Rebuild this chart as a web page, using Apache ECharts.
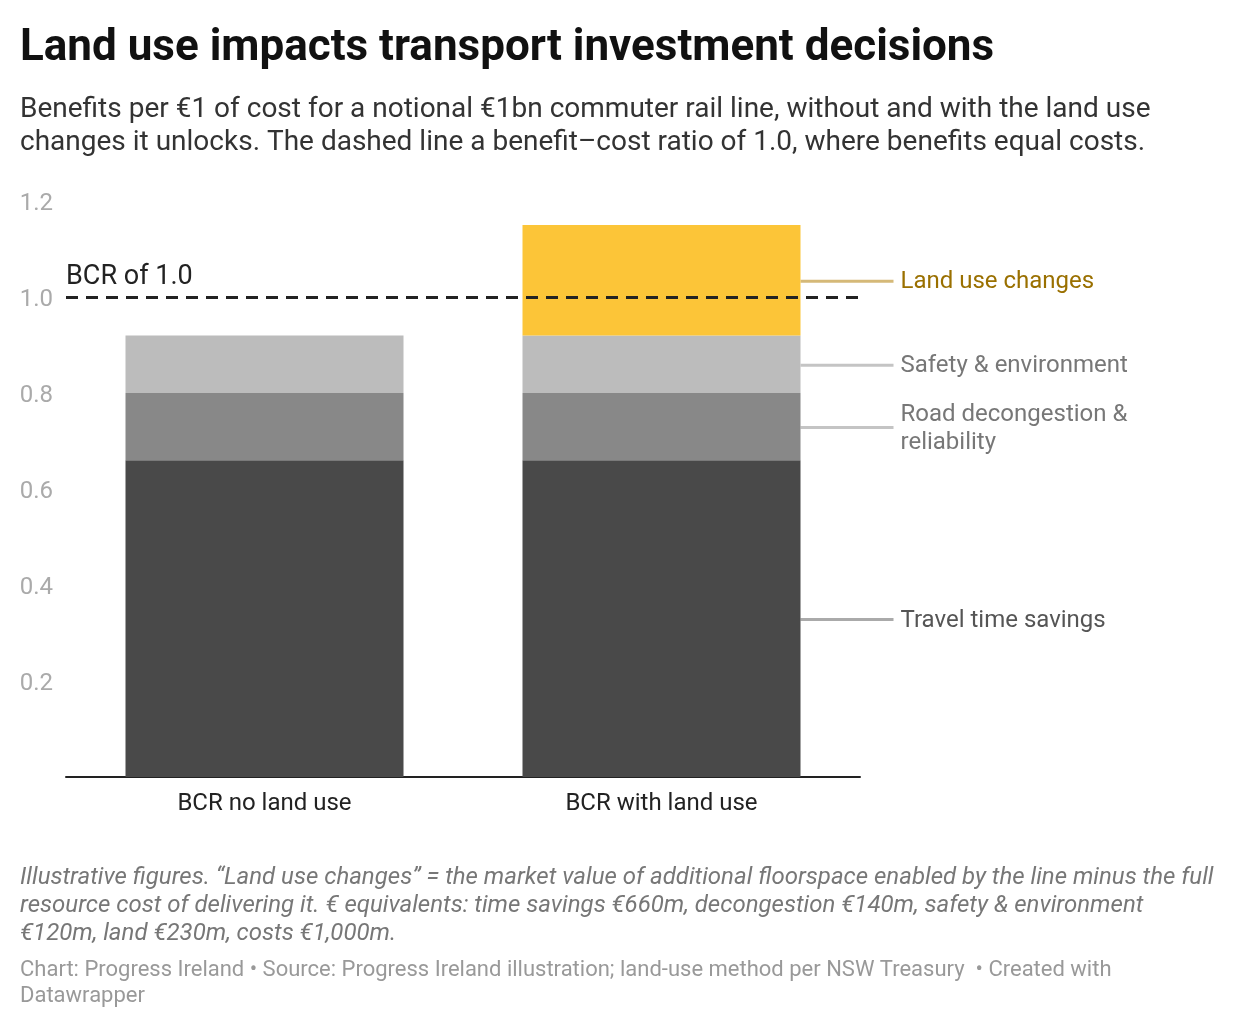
<!DOCTYPE html>
<html>
<head>
<meta charset="utf-8">
<script src="https://cdn.jsdelivr.net/npm/echarts@6/dist/echarts.min.js"></script>
<style>
  html, body { margin: 0; padding: 0; background: #fff; }
  #chart { width: 1240px; height: 1028px; }
</style>
</head>
<body>
<div id="chart"></div>
<script>
const categories = ['BCR no land use', 'BCR with land use']
const travelTime = [0.66, 0.66]
const decongestion = [0.14, 0.14]
const safetyEnv = [0.12, 0.12]
const landUse = [0, 0.23]
const yTicks = [0, 0.2, 0.4, 0.6, 0.8, 1.0, 1.2]
const bcrLine = 1.0

const FONT = 'Roboto'

const chart = echarts.init(document.getElementById('chart'))

// series layers, bottom to top, with their right-hand labels
const layers = [
  { name: 'Travel time savings', data: travelTime, color: '#494949', text: '#555555', line: '#aaaaaa' },
  { name: 'Road decongestion &\nreliability', data: decongestion, color: '#888888', text: '#777777', line: '#c4c4c4' },
  { name: 'Safety & environment', data: safetyEnv, color: '#bcbcbc', text: '#777777', line: '#c4c4c4' },
  { name: 'Land use changes', data: landUse, color: '#fcc538', text: '#9a7000', line: '#d5b978' },
]

const series = layers.map((l, i) => ({
  name: l.name,
  type: 'bar',
  stack: 'bcr',
  barWidth: 278,
  data: l.data,
  itemStyle: { color: l.color },
  emphasis: { disabled: true },
  silent: true,
  markLine: i === 3 ? {
    symbol: 'none',
    silent: true,
    lineStyle: { color: '#222', type: [12, 8], width: 3 },
    label: {
      show: true,
      position: 'insideStartTop',
      formatter: 'BCR of 1.0',
      color: '#222',
      fontFamily: FONT,
      fontSize: 27,
      distance: [0, 6],
    },
    data: [{ yAxis: bcrLine }],
  } : undefined,
  z: 2,
}))

chart.setOption({
  animation: false,
  textStyle: { fontFamily: FONT },
  title: [
    {
      text: 'Land use impacts transport investment decisions',
      left: 20, top: 27, padding: 0,
      textStyle: { fontFamily: FONT, fontSize: 44, fontWeight: 'bold', color: '#111' },
    },
    {
      text: 'Benefits per €1 of cost for a notional €1bn commuter rail line, without and with the land use\nchanges it unlocks. The dashed line a benefit–cost ratio of 1.0, where benefits equal costs.',
      left: 20, top: 93, padding: 0,
      textStyle: { fontFamily: FONT, fontSize: 28, fontWeight: 'normal', color: '#333', lineHeight: 33 },
    },
    {
      text: 'Illustrative figures. “Land use changes” = the market value of additional floorspace enabled by the line minus the full\nresource cost of delivering it. € equivalents: time savings €660m, decongestion €140m, safety & environment\n€120m, land €230m, costs €1,000m.',
      left: 20, top: 864, padding: 0,
      textStyle: { fontFamily: FONT, fontSize: 24, fontStyle: 'italic', fontWeight: 'normal', color: '#777', lineHeight: 28 },
    },
    {
      text: 'Chart: Progress Ireland • Source: Progress Ireland illustration; land-use method per NSW Treasury  • Created with\nDatawrapper',
      left: 20, top: 957, padding: 0,
      textStyle: { fontFamily: FONT, fontSize: 22, fontWeight: 'normal', color: '#999', lineHeight: 26 },
    },
  ],
  grid: { left: 66, right: 380, top: 201, bottom: 251, containLabel: false },
  xAxis: {
    type: 'category',
    data: categories,
    axisTick: { show: false },
    axisLine: { lineStyle: { color: '#222', width: 2 } },
    axisLabel: { color: '#222', fontSize: 24, fontFamily: FONT, margin: 15 },
  },
  yAxis: {
    type: 'value',
    min: yTicks[0],
    max: yTicks[yTicks.length - 1],
    interval: 0.2,
    splitLine: { show: false },
    axisLine: { show: false },
    axisTick: { show: false },
    axisLabel: {
      margin: 13,
      formatter: v => (v === 0 ? '' : '{v|' + v.toFixed(1) + '}'),
      rich: { v: { color: '#aaa', fontSize: 24, fontFamily: FONT, padding: [6, 0, 0, 0] } },
    },
  },
  series,
})

// leader lines + labels next to the second bar, placed at the middle of each segment
const graphics = []
let base = 0
layers.forEach(l => {
  const v = l.data[1]
  const mid = base + v / 2
  base += v
  const p = chart.convertToPixel({ seriesIndex: 0 }, [1, mid])
  const barRight = p[0] + 139
  graphics.push({
    type: 'line',
    shape: { x1: barRight, y1: p[1] + 1, x2: barRight + 93, y2: p[1] + 1 },
    style: { stroke: l.line, lineWidth: 3 },
    silent: true,
  })
  graphics.push({
    type: 'text',
    x: barRight + 100,
    y: p[1] + 2,
    style: {
      text: l.name,
      fill: l.text,
      font: '24px ' + FONT,
      lineHeight: 28,
      verticalAlign: 'middle',
    },
    silent: true,
  })
})
chart.setOption({ graphic: graphics })
</script>
</body>
</html>
